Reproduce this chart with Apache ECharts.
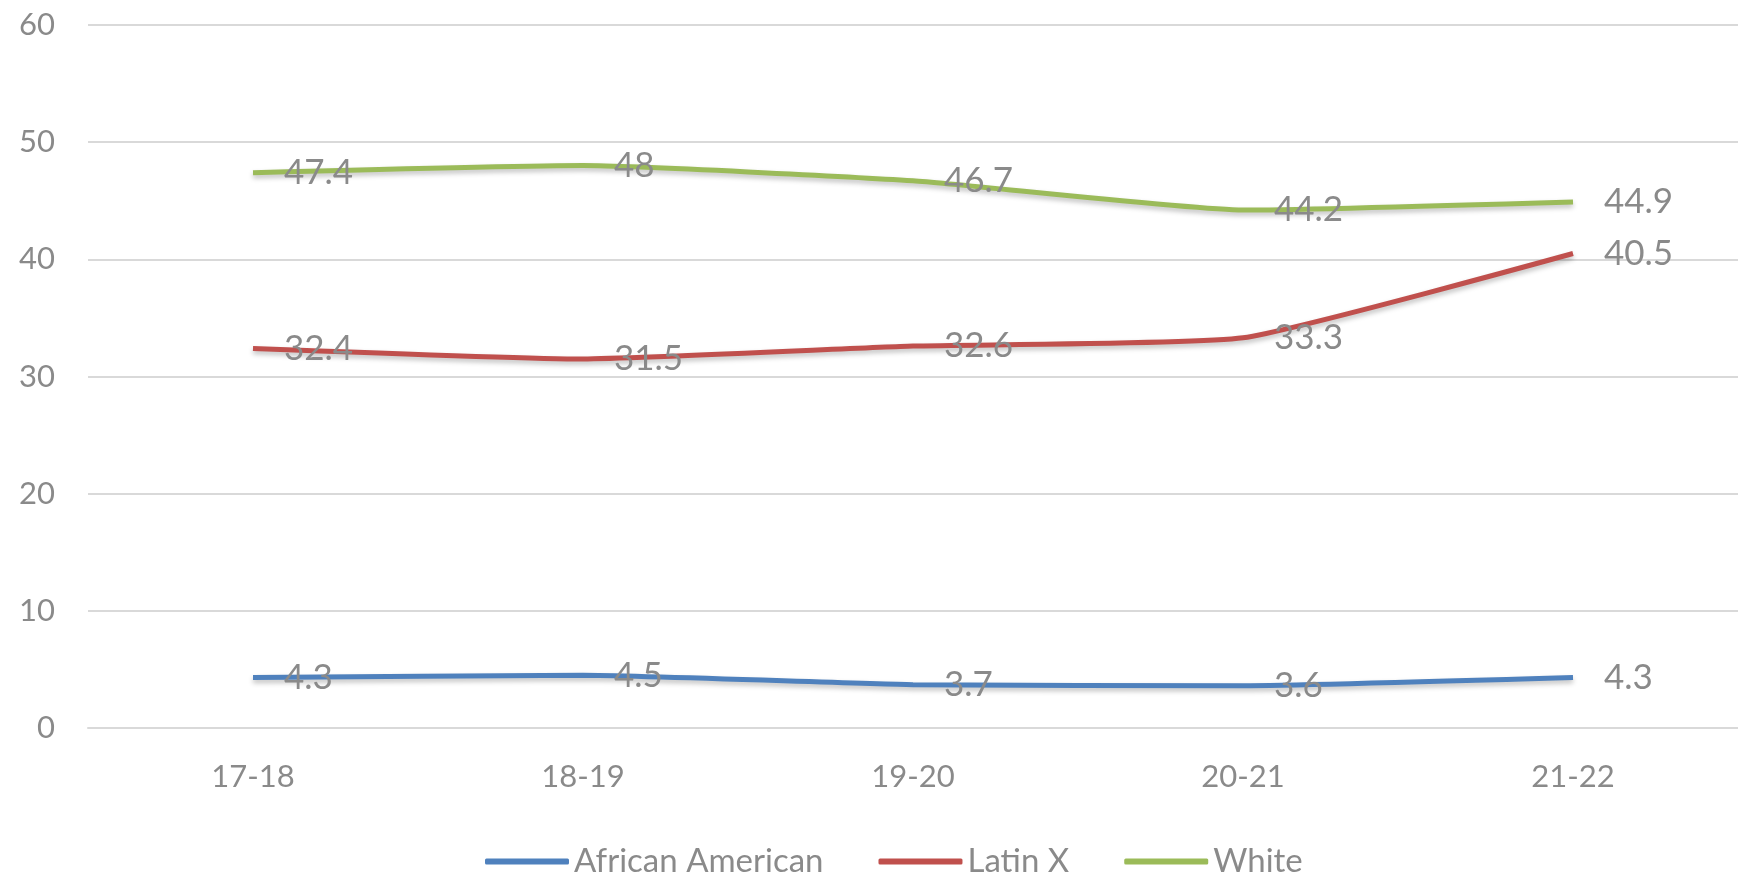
<!DOCTYPE html>
<html>
<head>
<meta charset="utf-8">
<script src="https://cdn.jsdelivr.net/npm/echarts@6/dist/echarts.min.js"></script>
<style>
  html, body { margin: 0; padding: 0; background: #ffffff; }
  #chart { width: 1738px; height: 873px; }
</style>
</head>
<body>
<div id="chart"></div>
<script>
// School years on the category axis
const years = ['17-18', '18-19', '19-20', '20-21', '21-22'];

// Percent values per group
const africanAmerican = [4.3, 4.5, 3.7, 3.6, 4.3];
const latinX = [32.4, 31.5, 32.6, 33.3, 40.5];
const white = [47.4, 48, 46.7, 44.2, 44.9];

// Value-axis ticks
const yTicks = [0, 10, 20, 30, 40, 50, 60];

const textGray = '#8a8a8a';
const fontFamily = 'Lato, "Open Sans", sans-serif';

function lineSeries(name, data, color) {
  return {
    name: name,
    type: 'line',
    data: data,
    smooth: 0.15,
    symbol: 'circle',
    symbolSize: 0,
    showSymbol: true,
    lineStyle: {
      color: color,
      width: 5,
      shadowColor: 'rgba(0,0,0,0.25)',
      shadowBlur: 5,
      shadowOffsetY: 3
    },
    itemStyle: { color: color },
    label: {
      show: true,
      position: 'right',
      distance: 31,
      color: textGray,
      fontSize: 35,
      fontFamily: fontFamily
    }
  };
}

const chart = echarts.init(document.getElementById('chart'), null, { renderer: 'canvas' });
chart.setOption({
  animation: false,
  backgroundColor: '#ffffff',
  grid: { left: 88, right: 0, top: 25, bottom: 145, containLabel: false },
  legend: {
    top: 840,
    left: 480,
    icon: 'roundRect',
    itemWidth: 84,
    itemHeight: 6,
    itemGap: 55,
    textStyle: { color: textGray, fontSize: 33, fontFamily: fontFamily },
    data: ['African American', 'Latin X', 'White']
  },
  xAxis: {
    type: 'category',
    data: years,
    boundaryGap: true,
    axisLine: { show: true, lineStyle: { color: '#d9d9d9', width: 2 } },
    axisTick: { show: false },
    axisLabel: { color: textGray, fontSize: 31, fontFamily: fontFamily, margin: 33 }
  },
  yAxis: {
    type: 'value',
    min: yTicks[0],
    max: yTicks[yTicks.length - 1],
    interval: yTicks[1] - yTicks[0],
    axisLine: { show: false },
    axisTick: { show: false },
    axisLabel: { color: textGray, fontSize: 31, fontFamily: fontFamily, margin: 33 },
    splitLine: { lineStyle: { color: '#d9d9d9', width: 2 } }
  },
  series: [
    lineSeries('African American', africanAmerican, '#4f81bd'),
    lineSeries('Latin X', latinX, '#c0504d'),
    lineSeries('White', white, '#9bbb59')
  ]
});
</script>
</body>
</html>
